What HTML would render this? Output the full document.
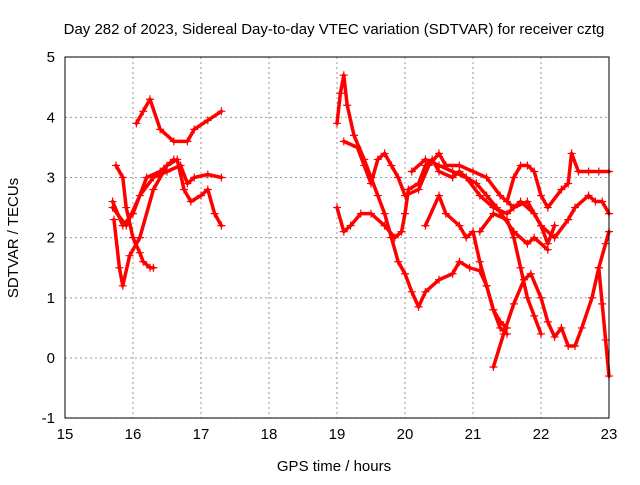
<!DOCTYPE html>
<html><head><meta charset="utf-8"><style>
body{margin:0;background:#fff;width:640px;height:480px;overflow:hidden}
svg{font-family:"Liberation Sans",sans-serif}
</style></head><body>
<svg id="c" width="640" height="480">
<text x="334" y="34" text-anchor="middle" font-size="15">Day 282 of 2023, Sidereal Day-to-day VTEC variation (SDTVAR) for receiver cztg</text>
<text x="334" y="471" text-anchor="middle" font-size="15">GPS time / hours</text>
<text transform="translate(18,238) rotate(-90)" text-anchor="middle" font-size="15">SDTVAR / TECUs</text>
<g id="grid"></g><g id="marks"></g>
<rect x="65" y="57" width="544" height="361" fill="none" stroke="#000"/>
</svg>
<script>
const xTicks=[15,16,17,18,19,20,21,22,23];
const yTicks=[-1,0,1,2,3,4,5];
const trackA=[[16.05,3.9],[16.15,4.1],[16.25,4.3],[16.4,3.8],[16.6,3.6],[16.8,3.6],[16.9,3.8],[17.1,3.95],[17.3,4.1]];
const trackB=[[15.7,2.5],[15.9,2.2],[16.1,2.7],[16.3,3.0],[16.5,3.1],[16.7,3.2],[16.8,2.9],[16.9,3.0],[17.1,3.05],[17.3,3.0]];
const trackC=[[15.75,3.2],[15.85,3.0],[15.9,2.5],[16.0,2.0],[16.1,1.75],[16.15,1.6],[16.25,1.5],[16.3,1.5]];
const trackD=[[15.72,2.3],[15.8,1.5],[15.85,1.2],[15.95,1.7],[16.1,2.0],[16.3,2.8],[16.5,3.2],[16.65,3.3],[16.75,2.8],[16.85,2.6],[17.0,2.7],[17.1,2.8],[17.2,2.4],[17.3,2.2]];
const trackE=[[15.7,2.6],[15.85,2.2],[16.0,2.4],[16.2,3.0],[16.4,3.1],[16.6,3.3]];
const trackF=[[19.0,3.9],[19.05,4.4],[19.1,4.7],[19.15,4.2],[19.25,3.7],[19.4,3.3],[19.5,3.0],[19.6,2.7],[19.7,2.4],[19.8,2.0],[19.9,1.6],[20.0,1.4],[20.1,1.1],[20.2,0.85],[20.3,1.1],[20.5,1.3],[20.7,1.4],[20.8,1.6],[20.95,1.5],[21.1,1.45],[21.2,1.2],[21.3,0.8],[21.4,0.5],[21.5,0.4]];
const trackG=[[19.0,2.5],[19.1,2.1],[19.2,2.2],[19.35,2.4],[19.5,2.4],[19.7,2.2],[19.85,2.0],[19.95,2.1],[20.0,2.4],[20.05,2.8],[20.2,2.9],[20.3,3.2],[20.4,3.3],[20.5,3.1],[20.7,3.0],[20.8,3.1],[20.9,3.0],[21.05,2.9],[21.2,2.7],[21.35,2.5],[21.6,2.1],[21.8,1.9],[21.9,2.0],[22.1,1.8]];
const trackH=[[19.1,3.6],[19.3,3.5],[19.4,3.2],[19.5,2.9],[19.6,3.3],[19.7,3.4],[19.8,3.2],[19.9,3.0],[20.0,2.7],[20.2,2.8],[20.35,3.2],[20.5,3.4],[20.6,3.2],[20.8,3.2],[21.0,3.1],[21.2,3.0],[21.4,2.7],[21.6,2.5],[21.8,2.6],[22.0,2.2],[22.1,1.9],[22.2,2.2]];
const trackI=[[20.1,3.1],[20.3,3.3],[20.5,3.2],[20.7,3.1],[20.9,3.0],[21.1,2.7],[21.3,2.5],[21.5,2.4],[21.7,2.6],[21.9,2.4],[22.0,2.2],[22.2,2.0],[22.4,2.3],[22.5,2.5],[22.7,2.7],[22.8,2.6],[22.9,2.6],[23.0,2.4]];
const trackJ=[[20.3,2.2],[20.5,2.7],[20.6,2.4],[20.8,2.2],[20.9,2.0],[21.0,2.1],[21.1,1.6],[21.2,1.2],[21.3,0.8],[21.4,0.6],[21.5,0.5]];
const trackK=[[21.3,-0.15],[21.45,0.4],[21.6,0.9],[21.75,1.3],[21.85,1.4],[22.0,1.0],[22.1,0.6],[22.2,0.35],[22.3,0.5],[22.4,0.2],[22.5,0.2],[22.6,0.5],[22.75,1.0],[22.85,1.5],[22.95,1.9],[23.0,2.1]];
const trackL=[[21.5,2.6],[21.6,3.0],[21.7,3.2],[21.8,3.2],[21.9,3.1],[22.0,2.7],[22.1,2.5],[22.3,2.8],[22.4,2.9],[22.45,3.4],[22.55,3.1],[22.7,3.1],[22.85,3.1],[23.0,3.1]];
const trackM=[[21.1,2.1],[21.3,2.4],[21.5,2.3],[21.6,2.0],[21.7,1.5],[21.8,1.0],[21.9,0.7],[22.0,0.4]];
const trackN=[[22.85,1.5],[22.9,0.9],[22.95,0.3],[23.0,-0.3]];
const tracks=[trackA,trackB,trackC,trackD,trackE,trackF,trackG,trackH,trackI,trackJ,trackK,trackL,trackM,trackN];
const X=t=>65+(t-15)*68, Y=v=>358-v*60.17;
const NS="http://www.w3.org/2000/svg";
const grid=document.getElementById('grid'), marks=document.getElementById('marks');
function mk(tag,attrs,parent){const e=document.createElementNS(NS,tag);for(const k in attrs)e.setAttribute(k,attrs[k]);parent.appendChild(e);return e;}
xTicks.forEach(t=>{
  const g=mk('line',{x1:X(t),x2:X(t),y1:57,y2:418,stroke:'#999','stroke-dasharray':'2,3'},grid);
  
  
  const l=mk('text',{x:X(t),y:439,'text-anchor':'middle','font-size':15},grid);l.textContent=t;
  
  
});
yTicks.forEach(v=>{
  const g=mk('line',{x1:65,x2:609,y1:Y(v),y2:Y(v),stroke:'#999','stroke-dasharray':'2,3'},grid);
  
  
  const l=mk('text',{x:55,y:Y(v)+5,'text-anchor':'end','font-size':15},grid);l.textContent=v;
  
  
});
tracks.forEach((tr,i)=>{
  const pl=mk('polyline',{points:tr.map(p=>X(p[0])+','+Y(p[1])).join(' '),fill:'none',stroke:'#f00','stroke-width':3.5,'stroke-linejoin':'round','stroke-linecap':'round'},marks);
  
  
  tr.forEach(p=>{
    const x=X(p[0]),y=Y(p[1]);
    const m=mk('path',{d:`M${x-4},${y}H${x+4}M${x},${y-4}V${y+4}`,stroke:'#f00','stroke-width':1.2},marks);
    
    
  });
});
</script>
</body></html>
